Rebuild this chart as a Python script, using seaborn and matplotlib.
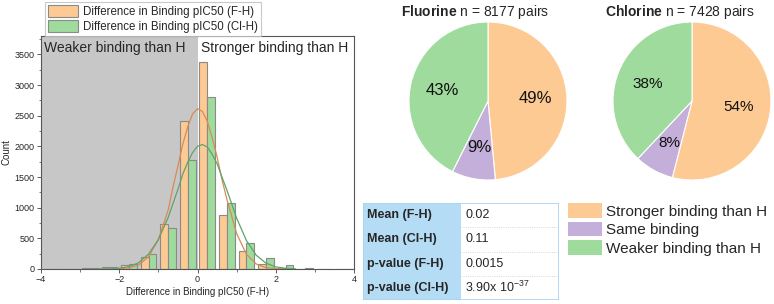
import numpy as np
import pandas as pd
import matplotlib
matplotlib.use('Agg')
import matplotlib.pyplot as plt
import seaborn as sns
from matplotlib.patches import Patch, Rectangle

# histogram bins (centres, width 0.5) and counts
bin_centers = [-3.75, -3.25, -2.75, -2.25, -1.75, -1.25, -0.75, -0.25,
               0.25, 0.75, 1.25, 1.75, 2.25, 2.75, 3.25, 3.75]
count_fh = [3, 5, 15, 35, 72, 200, 740, 2420, 3380, 880, 300, 75, 20, 5, 2, 1]
count_clh = [3, 5, 10, 25, 75, 250, 670, 1770, 2800, 1080, 430, 180, 60, 10, 5, 2]

# gaussian fit curves
curve_x = [-2.5, -2.25, -2.0, -1.75, -1.5, -1.25, -1.0, -0.75, -0.625, -0.5,
           -0.375, -0.25, -0.125, 0.0, 0.125, 0.25, 0.375, 0.5, 0.625, 0.75,
           1.0, 1.25, 1.5, 1.75, 2.0, 2.25, 2.5]
curve_fh = [0, 1, 4, 18, 66, 200, 480, 960, 1340, 1680,
            2040, 2320, 2530, 2615, 2570, 2410, 2140, 1830, 1460, 1140,
            580, 240, 82, 22, 5, 1, 0]
curve_clh = [1, 3, 12, 38, 103, 243, 480, 840, 1070, 1300,
             1550, 1740, 1900, 2000, 2030, 1990, 1870, 1720, 1500, 1290,
             830, 465, 225, 95, 34, 11, 3]

# pie data
pie_labels = ['Stronger binding than H', 'Same binding', 'Weaker binding than H']
fluorine_pct = [49, 9, 43]
chlorine_pct = [54, 8, 38]

# stats table
stat_names = ['Mean (F-H)', 'Mean (Cl-H)', 'p-value (F-H)', 'p-value (Cl-H)']
stat_values = ['0.02', '0.11', '0.0015', r'3.90x 10$^{-37}$']

sns.set_style('ticks')
plt.rcParams['font.family'] = ['Liberation Sans', 'DejaVu Sans']
plt.rcParams['mathtext.fontset'] = 'custom'
plt.rcParams['mathtext.rm'] = 'Liberation Sans'
plt.rcParams['mathtext.bf'] = 'Liberation Sans:bold'

orange = '#fdca93'
green = '#9edb9c'
purple = '#c3afd9'
W, H = 774, 304


def px_axes(fig, x0, y0, x1, y1):
    return fig.add_axes([x0 / W, 1 - y1 / H, (x1 - x0) / W, (y1 - y0) / H])


fig = plt.figure(figsize=(7.74, 3.04), dpi=100)

# ---- histogram ----
ax = px_axes(fig, 41, 36, 354, 269)
ax.axvspan(-4, 0, color='#c7c7c7', zorder=0, lw=0)

df = pd.DataFrame({
    'center': bin_centers * 2,
    'count': count_fh + count_clh,
    'series': ['F-H'] * len(bin_centers) + ['Cl-H'] * len(bin_centers),
})
sns.barplot(data=df, x='center', y='count', hue='series', native_scale=True,
            palette={'F-H': orange, 'Cl-H': green}, width=0.8, dodge=True,
            edgecolor='#8a8a8a', linewidth=0.8, saturation=1, legend=False,
            ax=ax, zorder=2)

curves = pd.DataFrame({'x': curve_x, 'F-H': curve_fh, 'Cl-H': curve_clh})
sns.lineplot(data=curves, x='x', y='F-H', color='#d98a55', lw=0.9, ax=ax, zorder=3)
sns.lineplot(data=curves, x='x', y='Cl-H', color='#5fa36a', lw=0.9, ax=ax, zorder=3)

ax.set_xlim(-4, 4)
ax.set_ylim(0, 3800)
ax.set_xticks([-4, -2, 0, 2, 4])
ax.set_xticklabels(['\u22124', '\u22122', '0', '2', '4'])
ax.set_xticks([-3, -1, 1, 3], minor=True)
ax.set_yticks(np.arange(0, 3501, 500))
ax.set_yticks(np.arange(250, 3800, 500), minor=True)
ax.tick_params(axis='both', labelsize=6.5, length=3, width=0.6, color='#444', pad=1.5)
ax.tick_params(which='minor', length=1.8, width=0.5, color='#444')
ax.set_xlabel('Difference in Binding pIC50 (F-H)', fontsize=7, labelpad=2)
ax.set_ylabel('Count', fontsize=7, labelpad=2)
for sp in ax.spines.values():
    sp.set_visible(True)
    sp.set_color('#555555')
    sp.set_linewidth(0.8)
ax.text(-3.93, 3720, 'Weaker binding than H', fontsize=10, va='top', ha='left', zorder=4)
ax.text(0.1, 3720, 'Stronger binding than H', fontsize=10, va='top', ha='left', zorder=4)

handles = [Patch(facecolor=orange, edgecolor='#8a8a8a', lw=0.8),
           Patch(facecolor=green, edgecolor='#8a8a8a', lw=0.8)]
leg = fig.legend(handles, ['Difference in Binding pIC50 (F-H)',
                           'Difference in Binding pIC50 (Cl-H)'],
                 loc='upper left', bbox_to_anchor=(45 / W, 1 - 2 / H),
                 fontsize=8.3, frameon=True, fancybox=False, borderpad=0.3,
                 handlelength=2.6, handleheight=1.15, handletextpad=0.4,
                 labelspacing=0.18, borderaxespad=0)
leg.get_frame().set_edgecolor('#bbbbbb')
leg.get_frame().set_linewidth(0.8)

# ---- pies ----
pie_colors = [orange, purple, green]


def draw_pie(cx, cy, r, values, fsize):
    pax = px_axes(fig, cx - r, cy - r, cx + r, cy + r)
    texts = iter([f'{v}%' for v in values])
    pax.pie(values, colors=pie_colors, startangle=90, counterclock=False,
            autopct=lambda p: next(texts), pctdistance=0.6,
            wedgeprops=dict(edgecolor='white', linewidth=0.8),
            textprops=dict(fontsize=fsize, color='#111111'))
    pax.set_xlim(-1, 1)
    pax.set_ylim(-1, 1)


draw_pie(488, 101, 79, fluorine_pct, 12)
draw_pie(692, 101, 79, chlorine_pct, 11)

fig.text(475 / W, 1 - 12 / H, r'$\mathbf{Fluorine}$ n = 8177 pairs',
         fontsize=10, ha='center', va='center')
fig.text(680 / W, 1 - 12 / H, r'$\mathbf{Chlorine}$ n = 7428 pairs',
         fontsize=10, ha='center', va='center')

pie_handles = [Patch(facecolor=c, edgecolor='none') for c in pie_colors]
leg2 = fig.legend(pie_handles, pie_labels, loc='upper left',
                  bbox_to_anchor=(568 / W, 1 - 203 / H), fontsize=11,
                  frameon=False, borderpad=0, handlelength=2.2, handleheight=1.1,
                  handletextpad=0.3, labelspacing=0.2, borderaxespad=0)

# ---- stats table ----
tax = px_axes(fig, 363, 203, 559, 300)
tax.set_xlim(0, 1)
tax.set_ylim(0, 1)
tax.axis('off')
split = (461 - 363) / 196
tax.add_patch(Rectangle((0, 0), split, 1, facecolor='#b5dcf5', edgecolor='none'))
tax.add_patch(Rectangle((0, 0), 1, 1, facecolor='none', edgecolor='#a9d3f2', lw=1.2))
n = len(stat_names)
for i, (name, val) in enumerate(zip(stat_names, stat_values)):
    yc = 1 - (i + 0.5) / n
    tax.text(0.022, yc, name, fontsize=9, fontweight='bold', va='center', ha='left')
    tax.text(split + 0.022, yc, val, fontsize=9, va='center', ha='left')
    if i > 0:
        tax.plot([split, 1], [1 - i / n] * 2, color='#cccccc', lw=0.6, ls=':')

fig.savefig('out.png', dpi=100)
